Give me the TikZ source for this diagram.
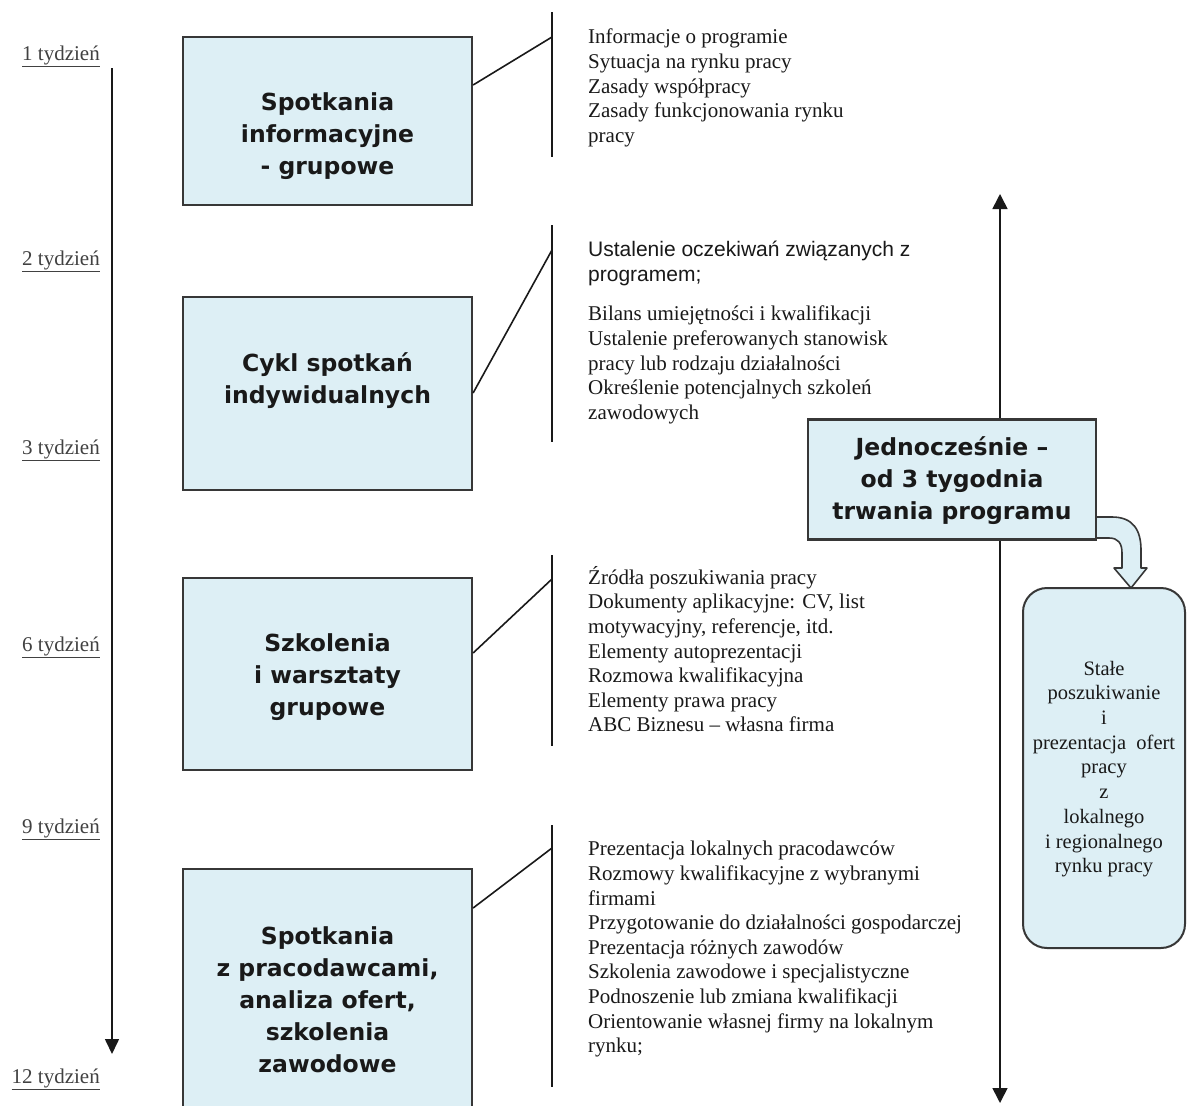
\documentclass[tikz,border=0pt]{standalone}
\usepackage{fontspec}
\setmainfont{Liberation Serif}
\newfontfamily\boxfont{DejaVu Sans}
\newfontfamily\arialfont{Liberation Sans}
\usetikzlibrary{arrows.meta}
\definecolor{boxblue}{RGB}{221,239,245}
\definecolor{edge}{RGB}{55,55,55}
\definecolor{ink}{RGB}{25,25,25}
\definecolor{weekink}{RGB}{65,65,65}
\begin{document}
\begin{tikzpicture}[x=1pt,y=-1pt,
  phase/.style={draw=edge, line width=2.2pt, fill=boxblue, inner sep=0pt},
  phasetext/.style={font=\boxfont\bfseries\fontsize{23.5}{32}\selectfont, align=center, text=ink, inner sep=0pt},
  listtext/.style={font=\fontsize{21}{24.6}\selectfont, align=left, text=ink, inner sep=0pt, anchor=north west},
  sanstext/.style={font=\arialfont\fontsize{21}{24.6}\selectfont, align=left, text=ink, inner sep=0pt, anchor=north west},
  week/.style={font=\fontsize{21}{24}\selectfont, text=weekink, inner sep=0pt, anchor=base east},
  bracket/.style={draw=ink, line width=1.6pt},
  link/.style={draw=ink, line width=1.6pt},
  timeline/.style={draw=ink, line width=1.6pt, -{Triangle[length=15pt,width=14pt]}},
  both/.style={draw=ink, line width=1.6pt, {Triangle[length=15pt,width=15pt]}-{Triangle[length=15pt,width=15pt]}}
]
\useasboundingbox (0,0) rectangle (1187,1106);
\fill[white] (0,0) rectangle (1187,1106);
\clip (0,0) rectangle (1187,1106);

% week labels
\node[week] (w1) at (100,60) {\underline{1 tydzień}};
\node[week] (w2) at (100,265) {\underline{2 tydzień}};
\node[week] (w3) at (100,454) {\underline{3 tydzień}};
\node[week] (w6) at (100,651) {\underline{6 tydzień}};
\node[week] (w9) at (100,833) {\underline{9 tydzień}};
\node[week] (w12) at (100,1083) {\underline{12 tydzień}};

% left timeline
\coordinate (tlstart) at (112,68);
\coordinate (tlend) at (112,1054);
\draw[timeline] (tlstart) -- (tlend);

% right double arrow
\coordinate (rtop) at (1000,194);
\coordinate (rbot) at (1000,1103);
\draw[both] (rtop) -- (rbot);

% phase boxes
\node[phase, minimum width=289, minimum height=168] (b1) at (327.5,121) {};
\node[phasetext] (t1) at (327.5,136) {Spotkania\\informacyjne\\- grupowe};
\node[phase, minimum width=289, minimum height=193] (b2) at (327.5,393.5) {};
\node[phasetext] (t2) at (327.5,381) {Cykl spotkań\\indywidualnych};
\node[phase, minimum width=289, minimum height=192] (b3) at (327.5,674) {};
\node[phasetext] (t3) at (327.5,677) {Szkolenia\\i warsztaty\\grupowe};
\node[phase, minimum width=289, minimum height=260] (b4) at (327.5,999) {};
\node[phasetext] (t4) at (327.5,1000) {Spotkania\\z pracodawcami,\\analiza ofert,\\szkolenia\\zawodowe};

% brackets
\coordinate (l1a) at (552,12);  \coordinate (l1b) at (552,157); \coordinate (l1j) at (552,37);
\coordinate (l2a) at (552,225); \coordinate (l2b) at (552,442); \coordinate (l2j) at (552,250);
\coordinate (l3a) at (552,555); \coordinate (l3b) at (552,746); \coordinate (l3j) at (552,579);
\coordinate (l4a) at (552,825); \coordinate (l4b) at (552,1087); \coordinate (l4j) at (552,848);
\draw[bracket] (l1a) -- (l1b);
\draw[bracket] (l2a) -- (l2b);
\draw[bracket] (l3a) -- (l3b);
\draw[bracket] (l4a) -- (l4b);
\draw[link] (b1.east |- 0,85) -- (l1j);
\draw[link] (b2.east |- 0,393) -- (l2j);
\draw[link] (b3.east |- 0,653) -- (l3j);
\draw[link] (b4.east |- 0,908) -- (l4j);

% text blocks
\node[listtext] (x1) at (588,29) {Informacje o programie\\Sytuacja na rynku pracy\\Zasady współpracy\\Zasady funkcjonowania rynku\\pracy};
\node[sanstext] (x2a) at (588,241) {Ustalenie oczekiwań związanych z\\programem;};
\node[listtext] (x2b) at (588,306) {Bilans umiejętności i kwalifikacji\\Ustalenie preferowanych stanowisk\\pracy lub rodzaju działalności\\Określenie potencjalnych szkoleń\\zawodowych};
\node[listtext] (x3) at (588,566) {Źródła poszukiwania pracy\\Dokumenty aplikacyjne: CV, list\\motywacyjny, referencje, itd.\\Elementy autoprezentacji\\Rozmowa kwalifikacyjna\\Elementy prawa pracy\\ABC Biznesu – własna firma};
\node[listtext] (x4) at (588,841) {Prezentacja lokalnych pracodawców\\Rozmowy kwalifikacyjne z wybranymi\\firmami\\Przygotowanie do działalności gospodarczej\\Prezentacja różnych zawodów\\Szkolenia zawodowe i specjalistyczne\\Podnoszenie lub zmiana kwalifikacji\\Orientowanie własnej firmy na lokalnym\\rynku;};

% simultaneous box
\node[phase, minimum width=288, minimum height=120] (jb) at (952,479.5) {};
\node[phasetext] (jt) at (952,481) {Jednocześnie –\\od 3 tygodnia\\trwania programu};

% bent block arrow
\filldraw[fill=boxblue, draw=edge, line width=1.6pt, line join=round]
  (jb.east |- 0,517) -- (1112,517) .. controls (1133,517) and (1141,530) .. (1141,550)
  -- (1141,568) -- (1147,568) -- (1131,588) -- (1114,568) -- (1122,568) -- (1122,553)
  .. controls (1122,543) and (1118,538) .. (1109,538) -- (jb.east |- 0,538);

% rounded box
\node[draw=edge, line width=2pt, fill=boxblue, rounded corners=24pt, minimum width=162, minimum height=360, inner sep=0pt] (rb) at (1104,768) {};
\node[font=\fontsize{20.5}{24.7}\selectfont, align=center, text=ink, inner sep=0pt] (rt) at (1104,769) {Stałe\\poszukiwanie\\i\\prezentacja\ \ ofert\\pracy\\z\\lokalnego\\i regionalnego\\rynku pracy};
\end{tikzpicture}
\end{document}
